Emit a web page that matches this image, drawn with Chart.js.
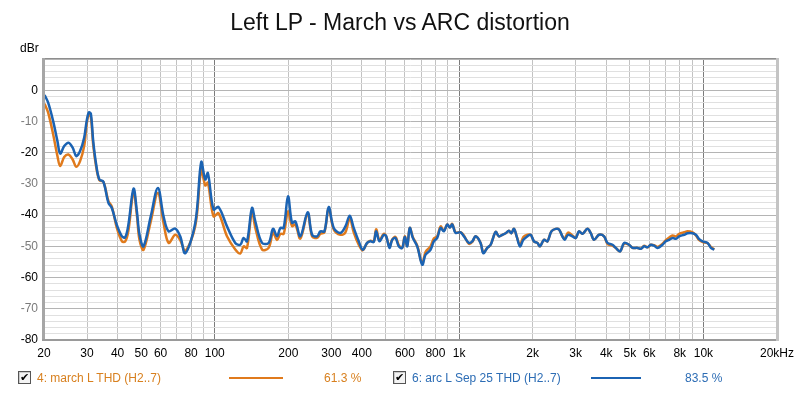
<!DOCTYPE html>
<html>
<head>
<meta charset="utf-8">
<script src="https://cdn.jsdelivr.net/npm/chart.js@4.4.1/dist/chart.umd.min.js"></script>
<style>
  html, body { margin: 0; padding: 0; background: #fff; }
  #wrap { position: relative; width: 800px; height: 393px; font-family: "Liberation Sans", Arial, sans-serif; }
  #chart { position: absolute; left: 0; top: 0; }
  .txt { position: absolute; white-space: nowrap; font-size: 12px; line-height: 14px; }
  #title { position: absolute; left: 0; width: 800px; top: 8px; text-align: center; font-size: 23px; line-height: 28px; color: #111; }
  .chk { position: absolute; width: 11px; height: 11px; border: 1px solid #555; background: #f4f4f4;
         font-size: 11px; line-height: 11px; text-align: center; color: #000; box-shadow: inset 1px 1px 0 #ccc; }
  .swatch { position: absolute; height: 2px; }
</style>
</head>
<body>
<div id="wrap">
  <canvas id="chart" width="800" height="393"></canvas>
  <div id="title">Left LP - March vs ARC distortion</div>
  <div class="txt" style="left:20px; top:41px; color:#000;">dBr</div>

  <div class="chk" style="left:18px; top:371px;">&#10004;</div>
  <div class="txt" style="left:37px; top:371px; color:#d8801f;">4: march L THD (H2..7)</div>
  <div class="swatch" style="left:229px; top:377px; width:54px; background:#e07a1c;"></div>
  <div class="txt" style="left:324px; top:371px; color:#d8801f;">61.3 %</div>

  <div class="chk" style="left:393px; top:371px;">&#10004;</div>
  <div class="txt" style="left:412px; top:371px; color:#2d6db5;">6: arc L Sep 25 THD (H2..7)</div>
  <div class="swatch" style="left:591px; top:377px; width:50px; background:#1b63b3;"></div>
  <div class="txt" style="left:685px; top:371px; color:#2d6db5;">83.5 %</div>
</div>
<script>
// frequency points (Hz), shared by both traces
const freqs = [
  20.1, 20.8, 21.8, 22.7, 23.3, 24.2, 25.2, 26.2, 27.1, 28.1,
  29.2, 29.9, 30.5, 31.1, 31.8, 32.7, 33.7, 35.0, 36.7, 37.9,
  39.7, 41.7, 43.0, 44.3, 46.5, 48.0, 49.2, 51.1, 54.7, 58.5,
  61.7, 64.7, 68.9, 72.2, 75.7, 83.2, 88.0, 91.4, 93.7, 98.8,
  103.6, 112.2, 121.3, 127.2, 131.2, 135.5, 142.0, 146.5, 156.1, 166.1,
  173.2, 179.8, 185.5, 191.4, 199.4, 207.1, 213.7, 224.0, 240.0, 250.2,
  262.3, 270.6, 281.0, 292.6, 306.8, 326.7, 342.5, 356.7, 370.4, 388.3,
  403.3, 420.3, 433.7, 447.4, 457.6, 472.1, 491.7, 502.9, 518.8, 532.2,
  549.0, 566.4, 584.8, 599.3, 613.1, 628.3, 646.3, 673.8, 706.4, 728.7,
  763.9, 788.1, 813.7, 839.5, 866.0, 894.2, 916.5, 937.4, 967.1, 1014,
  1046, 1096, 1132, 1168, 1224, 1256, 1304, 1346, 1411, 1455,
  1503, 1550, 1599, 1636, 1677, 1720, 1774, 1832, 1903, 1963,
  2025, 2091, 2143, 2225, 2298, 2386, 2485, 2564, 2647, 2705,
  2791, 2909, 3001, 3096, 3197, 3352, 3458, 3567, 3739, 3920,
  4047, 4243, 4377, 4559, 4734, 4963, 5124, 5372, 5542, 5718,
  5904, 6091, 6284, 6489, 6802, 7017, 7239, 7475, 7713, 7957,
  8340, 8611, 9027, 9312, 9608, 9921, 10400, 10729, 11068
];

// 6: arc L Sep 25 THD (H2..7), dBr
const arcL = [
  -1.5, -4.0, -9.9, -16.3, -20.3, -17.9, -16.8, -18.4, -21.1, -19.5,
  -15.2, -9.9, -7.1, -7.5, -16.3, -23.8, -28.6, -29.3, -36.1, -37.7,
  -43.1, -46.8, -47.1, -43.1, -31.5, -38.8, -46.3, -50.0, -40.4, -31.3,
  -40.4, -45.2, -44.3, -46.8, -52.2, -42.5, -23.0, -28.6, -26.5, -38.2,
  -37.4, -43.6, -48.9, -49.5, -47.3, -48.4, -37.7, -42.0, -48.9, -48.9,
  -44.4, -46.8, -44.1, -44.1, -34.0, -42.5, -42.0, -46.8, -39.1, -46.3,
  -46.8, -45.2, -45.2, -37.4, -44.1, -45.7, -43.6, -40.2, -44.1, -48.4,
  -51.1, -48.9, -48.4, -48.6, -45.2, -48.4, -46.3, -46.8, -50.5, -47.9,
  -47.3, -50.0, -50.5, -47.0, -50.0, -44.1, -47.3, -50.0, -55.9, -52.7,
  -51.1, -48.4, -47.3, -44.1, -45.2, -43.0, -44.0, -43.0, -45.7, -45.5,
  -46.8, -48.9, -48.4, -46.8, -48.9, -52.2, -50.5, -49.5, -45.4, -46.8,
  -46.3, -45.8, -45.0, -45.8, -44.4, -46.8, -50.0, -47.9, -46.8, -46.3,
  -48.4, -48.9, -50.0, -47.9, -48.4, -45.2, -44.4, -44.6, -46.8, -47.9,
  -46.3, -46.8, -47.3, -45.2, -46.0, -44.4, -45.8, -47.9, -46.3, -46.8,
  -48.9, -49.5, -50.5, -51.6, -48.9, -49.5, -50.5, -50.5, -50.8, -50.0,
  -50.3, -49.5, -49.8, -50.5, -49.5, -48.4, -47.9, -47.3, -47.6, -46.8,
  -46.3, -45.8, -45.8, -46.3, -47.7, -48.4, -48.9, -50.5, -51.1
];

// 4: march L THD (H2..7), dBr
const marchL = [
  -4.3, -7.2, -14.1, -21.1, -24.3, -21.4, -20.6, -22.2, -24.5, -22.7,
  -17.9, -10.9, -7.6, -8.6, -17.5, -24.5, -28.8, -29.3, -35.5, -37.3,
  -44.0, -48.4, -48.4, -45.0, -32.5, -40.0, -48.0, -51.1, -42.0, -32.9,
  -42.5, -48.9, -46.3, -48.0, -51.5, -43.5, -25.4, -30.5, -29.6, -40.4,
  -39.4, -46.8, -51.0, -52.3, -50.0, -50.5, -38.8, -44.0, -51.0, -50.5,
  -45.6, -48.0, -46.0, -46.0, -38.8, -43.5, -43.0, -47.5, -39.5, -46.8,
  -47.3, -46.0, -45.5, -37.8, -44.6, -46.3, -45.5, -41.0, -45.5, -49.5,
  -51.3, -48.9, -48.2, -48.4, -44.5, -48.0, -46.0, -46.8, -50.0, -47.9,
  -47.0, -49.6, -50.5, -46.8, -49.8, -44.1, -47.0, -49.8, -55.5, -51.8,
  -50.0, -47.5, -46.8, -43.6, -45.0, -43.0, -44.0, -42.8, -45.5, -45.5,
  -46.5, -49.2, -48.6, -46.8, -48.9, -52.0, -50.5, -49.5, -45.4, -46.8,
  -46.3, -45.8, -45.0, -45.8, -44.4, -46.8, -49.5, -47.0, -46.3, -46.3,
  -48.4, -48.9, -50.0, -47.9, -48.4, -45.2, -44.4, -44.6, -46.8, -47.5,
  -45.6, -46.5, -47.3, -45.2, -46.0, -44.4, -45.8, -47.9, -46.3, -46.8,
  -49.2, -49.8, -50.5, -51.6, -49.2, -49.5, -50.5, -50.5, -50.8, -49.8,
  -50.3, -49.5, -49.6, -50.2, -49.2, -48.0, -47.2, -46.5, -46.8, -46.0,
  -45.5, -45.2, -45.5, -46.5, -48.0, -48.6, -49.0, -50.2, -51.0
];

// x grid positions and the labels shown under them
const gridFreqs = [20, 30, 40, 50, 60, 70, 80, 90, 100, 200, 300, 400, 500, 600, 700, 800, 900,
  1000, 2000, 3000, 4000, 5000, 6000, 7000, 8000, 9000, 10000, 20000];
const freqLabels = {20: "20", 30: "30", 40: "40", 50: "50", 60: "60", 80: "80", 100: "100",
  200: "200", 300: "300", 400: "400", 600: "600", 800: "800", 1000: "1k",
  2000: "2k", 3000: "3k", 4000: "4k", 5000: "5k", 6000: "6k", 8000: "8k", 10000: "10k", 20000: "20kHz"};
const decades = [100, 1000, 10000];

// y grid every 2 dB, labels every 10 dB
const dbTicks = [-80, -78, -76, -74, -72, -70, -68, -66, -64, -62, -60, -58, -56, -54, -52, -50,
  -48, -46, -44, -42, -40, -38, -36, -34, -32, -30, -28, -26, -24, -22, -20, -18, -16, -14, -12,
  -10, -8, -6, -4, -2, 0, 2, 4, 6, 8, 10];

function toPoints(ys){
  return freqs.map(function(f, i){ return {x: f, y: ys[i]}; });
}

// grey 3d-ish frame round the plot like the original app
const framePlugin = {
  id: "frame",
  afterDraw: function(chart){
    const a = chart.chartArea, c = chart.ctx;
    c.save();
    c.fillStyle = "#8e8e8e";
    c.fillRect(a.left - 1, a.top - 1, a.right - a.left + 2, 1);
    c.fillStyle = "#a6a6a6";
    c.fillRect(a.left - 2, a.top - 1, 3, a.bottom - a.top + 2);
    c.fillStyle = "#9a9a9a";
    c.fillRect(a.left - 2, a.bottom - 1, a.right - a.left + 4, 2);
    c.fillStyle = "#c4c4c4";
    c.fillRect(a.right - 1, a.top - 1, 3, a.bottom - a.top + 2);
    c.restore();
  }
};

Chart.defaults.font.family = '"Liberation Sans", Arial, sans-serif';
Chart.defaults.font.size = 12;

new Chart(document.getElementById("chart"), {
  type: "line",
  data: {
    datasets: [
      {label: "6: arc L Sep 25 THD (H2..7)", data: toPoints(arcL), borderColor: "#1b63b3",
       borderWidth: 2.5, pointRadius: 0, tension: 0.35, fill: false},
      {label: "4: march L THD (H2..7)", data: toPoints(marchL), borderColor: "#e07a1c",
       borderWidth: 2.5, pointRadius: 0, tension: 0.35, fill: false}
    ]
  },
  options: {
    responsive: false,
    animation: false,
    events: [],
    layout: {padding: {left: 0, right: 22, top: 59, bottom: 31}},
    plugins: {legend: {display: false}, tooltip: {enabled: false}, title: {display: false}},
    scales: {
      x: {
        type: "logarithmic", min: 20, max: 20000,
        afterBuildTicks: function(s){ s.ticks = gridFreqs.map(function(v){ return {value: v}; }); },
        afterFit: function(s){ s.height = 22; },
        ticks: {
          autoSkip: false, maxRotation: 0, minRotation: 0, padding: 6, color: "#000",
          callback: function(v){ return freqLabels[v] || ""; }
        },
        grid: {
          drawTicks: false,
          color: function(ctx){ return ctx.tick && decades.includes(ctx.tick.value) ? "#7c7c7c" : "#c2c2c2"; }
        },
        border: {display: false}
      },
      y: {
        min: -80, max: 10,
        afterBuildTicks: function(s){ s.ticks = dbTicks.map(function(v){ return {value: v}; }); },
        afterFit: function(s){ s.width = 44; },
        ticks: {
          autoSkip: false, padding: 6,
          color: function(ctx){ return ctx.tick && ctx.tick.value % 20 === 0 ? "#000" : "#7a7a7a"; },
          callback: function(v){ return (v % 10 === 0 && v <= 0) ? String(v) : ""; }
        },
        grid: {
          drawTicks: false,
          color: function(ctx){ return ctx.tick && ctx.tick.value % 10 === 0 ? "#b4b4b4" : "#e0e0e0"; }
        },
        border: {display: false}
      }
    }
  },
  plugins: [framePlugin]
});
</script>
</body>
</html>
